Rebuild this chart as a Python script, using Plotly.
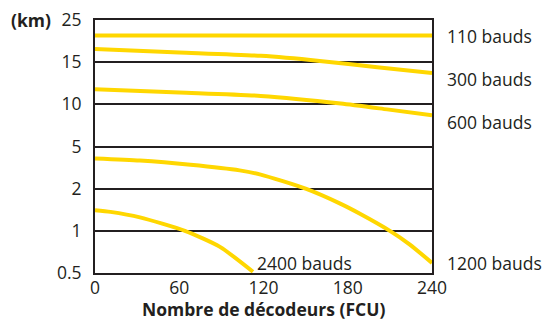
"""
Portée en fonction du nombre de décodeurs, par débit.
"""
import numpy as np
import plotly.graph_objects as go

# y axis: evenly spaced (non-linear) km ticks
y_ticks_km = [0.5, 1, 2, 5, 10, 15, 25]
x_ticks = [0, 60, 120, 180, 240]

# curves, values (x = FCU, y = km)
x_110 = [0, 240]
km_110 = [21.3, 21.3]

x_300 = [0, 60, 118, 160, 201, 240]
km_300 = [18.1, 17.3, 16.5, 15.3, 14.4, 13.7]

x_600 = [0, 60, 118, 175, 208, 240]
km_600 = [11.8, 11.4, 11.0, 10.1, 9.4, 8.7]

x_1200 = [0, 32, 68, 103, 118, 150, 175, 189, 210, 224, 240]
km_1200 = [4.15, 4.0, 3.7, 3.3, 3.0, 2.0, 1.64, 1.4, 1.0, 0.84, 0.62]

x_2400 = [0, 11, 32, 64, 89, 112.5]
km_2400 = [1.49, 1.45, 1.32, 1.0, 0.81, 0.515]

series = [
    ("110 bauds", x_110, km_110),
    ("300 bauds", x_300, km_300),
    ("600 bauds", x_600, km_600),
    ("1200 bauds", x_1200, km_1200),
    ("2400 bauds", x_2400, km_2400),
]

YELLOW = "#FFD700"
DARK = "#231F20"
FONT = "Open Sans"
SIZE = 17.5


def km_to_axis(km):
    """Map km values onto the evenly spaced tick positions."""
    return np.interp(km, y_ticks_km, list(range(len(y_ticks_km))))


fig = go.Figure()
for name, xs, kms in series:
    fig.add_trace(go.Scatter(
        x=xs,
        y=km_to_axis(kms),
        mode="lines",
        name=name,
        line=dict(color=YELLOW, width=4, shape="spline", smoothing=0.6),
        hoverinfo="skip",
    ))

# right-hand labels (shifted a little below the curve ends, as in the original)
label_shift = {"110 bauds": 0, "300 bauds": -6, "600 bauds": -7, "1200 bauds": 0}
for name, xs, kms in series[:4]:
    fig.add_annotation(
        x=240, y=km_to_axis(kms[-1]), xref="x", yref="y",
        text=name, showarrow=False, xanchor="left", xshift=13,
        yshift=label_shift[name],
        font=dict(family=FONT, size=SIZE, color=DARK),
    )

fig.add_annotation(
    x=x_2400[-1], y=km_to_axis(km_1200[-1]), xref="x", yref="y",
    text="2400 bauds", showarrow=False, xanchor="left", xshift=2,
    font=dict(family=FONT, size=SIZE, color=DARK),
)

fig.add_annotation(
    x=0, y=1, xref="paper", yref="paper",
    text="<b>(km)</b>", showarrow=False, xanchor="right", yanchor="middle",
    xshift=-42, font=dict(family=FONT, size=SIZE, color=DARK),
)

fig.add_annotation(
    x=0.5, y=0, xref="paper", yref="paper",
    text="<b>Nombre de décodeurs (FCU)</b>", showarrow=False,
    yanchor="middle", yshift=-36,
    font=dict(family=FONT, size=SIZE, color=DARK),
)

# the page body adds an 8px offset, so the figure is a bit smaller
fig.update_layout(
    width=543,
    height=312,
    margin=dict(l=87, r=119, t=12, b=47),
    paper_bgcolor="white",
    plot_bgcolor="white",
    showlegend=False,
    font=dict(family=FONT, size=SIZE, color=DARK),
    xaxis=dict(
        range=[0, 240],
        tickvals=x_ticks,
        showgrid=False,
        zeroline=False,
        showline=True,
        linecolor=DARK,
        linewidth=2,
        mirror=True,
        ticks="",
        automargin=False,
        ticklabeloverflow="allow",
        ticklabelstandoff=-2,
        tickfont=dict(size=SIZE),
    ),
    yaxis=dict(
        range=[0, 6],
        tickvals=list(range(len(y_ticks_km))),
        ticktext=[f"{v:g}" for v in y_ticks_km],
        showgrid=True,
        gridcolor=DARK,
        gridwidth=1.5,
        zeroline=False,
        showline=True,
        linecolor=DARK,
        linewidth=2,
        mirror=True,
        ticks="",
        automargin=False,
        ticklabeloverflow="allow",
        ticklabelstandoff=8,
        tickfont=dict(size=SIZE),
    ),
)

fig.write_html("out.html")
